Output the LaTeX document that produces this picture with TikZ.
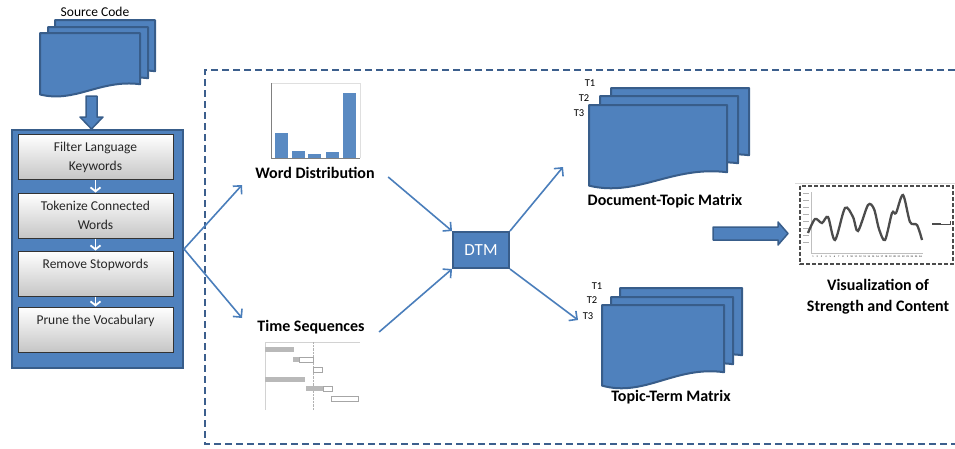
\documentclass[tikz,border=0pt]{standalone}
\usepackage{fontspec}
\setmainfont{Carlito}
\usetikzlibrary{arrows.meta}
\definecolor{boxblue}{HTML}{4F81BD}
\definecolor{edgeblue}{HTML}{385D8A}
\definecolor{lineblue}{HTML}{4A7EBB}
\definecolor{dashblue}{HTML}{3C5F8D}
\definecolor{barblue}{HTML}{5A8AC2}

\newcommand{\docpage}[4]{%
  \draw[docsheet] (#1,#2) -- ({#1+#3},#2) -- ({#1+#3},{#2+0.8*#4})
    .. controls ({#1+0.6*#3},{#2+0.72*#4}) and ({#1+0.35*#3},{#2+1.1*#4}) .. (#1,{#2+0.96*#4}) -- cycle;}

\begin{document}
\begin{tikzpicture}[x=1pt,y=-1pt,
  docsheet/.style={fill=boxblue, draw=edgeblue, line width=2pt, line join=round},
  blockarrow/.style={fill=boxblue, draw=edgeblue, line width=1.5pt, line join=round},
  stepbox/.style={draw=black!80, line width=1pt, top color=white, bottom color=gray!45, minimum width=155, minimum height=45, align=center, text=black!85, font=\fontsize{13.5}{19}\selectfont},
  stepflow/.style={draw=white, line width=1.8pt, -{Straight Barb[length=4pt,width=10pt]}},
  flow/.style={draw=lineblue, line width=1.6pt, -{Straight Barb[length=6pt,width=12pt]}},
  lbl/.style={font=\bfseries\fontsize{16}{21}\selectfont, align=center},
  tlbl/.style={font=\fontsize{10.5}{12}\selectfont}]
\useasboundingbox (0,0) rectangle (955,448);
\draw[dashblue, line width=2.2pt, dash pattern=on 7pt off 4pt] (955,70) -- (205,70) -- (205,444) -- (955,444);
\node (src) at (95,12) {\fontsize{13.5}{15}\selectfont Source Code};
\draw[blockarrow] (86,96) -- (97,96) -- (97,117) -- (103,117) -- (91.5,129) -- (80,117) -- (86,117) -- cycle;
\docpage{55}{20}{100}{64}
\docpage{48}{27}{100}{64}
\docpage{40}{33}{100}{64}
\node[fill=boxblue, draw=edgeblue, line width=2pt, minimum width=171, minimum height=238] (prep) at (97.5,249) {};
\node[stepbox] (s1) at (95.5,157) {Filter Language\\Keywords};
\node[stepbox] (s2) at (95.5,215.5) {Tokenize Connected\\Words};
\node[stepbox] (s3) at (95.5,273.5) {Remove Stopwords\\~};
\node[stepbox] (s4) at (95.5,329.5) {Prune the Vocabulary\\~};
\draw[stepflow] (s1) -- (s2);
\draw[stepflow] (s2) -- (s3);
\draw[stepflow] (s3) -- (s4);
\draw[gray!25] (271,83) -- (360,83) -- (360,158);
\foreach \x/\t in {275/133, 292/151, 308/154, 326/152, 343/93}
  \fill[barblue] (\x,\t) rectangle (\x+13,158);
\draw[gray, line width=1pt] (271,83) -- (271,158) -- (360,158);
\node[lbl] (wdist) at (315,173) {Word Distribution};
\node[lbl] (tseq) at (311,327) {Time Sequences};
\draw[gray!35] (265,342) -- (360,342);
\draw[gray!35] (265,342) -- (265,410);
\draw[gray!60, densely dotted] (313,342) -- (313,410);
\foreach \a/\b/\r in {265/294/347, 293/299/357, 265/305/377, 306/323/386}
  \fill[gray!55] (\a,\r) rectangle (\b,\r+5);
\foreach \a/\b/\r in {299/313/357, 313/322/367, 323/332/386, 331/358/396}
  \draw[gray!70, fill=white] (\a,\r) rectangle (\b,\r+5);
\coordinate (wdin) at (242,185);
\coordinate (tsin) at (242,318);
\draw[flow] (prep.east) -- (wdin);
\draw[flow] (prep.east) -- (tsin);
\node[fill=boxblue, draw=edgeblue, line width=2pt, minimum width=56, minimum height=36, text=white, font=\fontsize{17}{18}\selectfont] (dtm) at (481,250) {DTM};
\draw[flow] ([shift={(10,4)}]wdist.east) -- (dtm.north west);
\draw[flow] ([shift={(11,5)}]tseq.east) -- (dtm.south west);
\coordinate (dtin) at (563,167);
\coordinate (ttin) at (578,320);
\draw[flow] (dtm.north east) -- (dtin);
\draw[flow] (dtm.south east) -- (ttin);
\docpage{611}{88}{138}{84}
\docpage{600}{96}{138}{84}
\docpage{589}{105}{138}{84}
\node[tlbl] (dt1) at (590,83) {T1};
\node[tlbl] (dt2) at (584,98) {T2};
\node[tlbl] (dt3) at (579,113) {T3};
\node[lbl] (dtmat) at (665,201) {Document-Topic Matrix};
\docpage{620}{288}{122}{84}
\docpage{611}{297}{122}{84}
\docpage{602}{305}{122}{84}
\node[tlbl] (tt1) at (597,286) {T1};
\node[tlbl] (tt2) at (592,300) {T2};
\node[tlbl] (tt3) at (588,316) {T3};
\node[lbl] (ttmat) at (671,397) {Topic-Term Matrix};
\draw[blockarrow] (713,227) -- (778,227) -- (778,222) -- (788,233.5) -- (778,245) -- (778,240) -- (713,240) -- cycle;
\draw[gray!30] (795,183) -- (955,183);
\draw[gray!60!black, line width=1.5pt, dash pattern=on 4pt off 2pt] (800,186) rectangle (953,264);
\draw[gray!50] (811,192) -- (811,253) -- (923,253);
\foreach \v in {193,200,...,246}
  \draw[gray!60, line width=0.8pt] (803,\v) -- (809,\v);
\foreach \i in {1,...,26}
  \node[font=\fontsize{2.5}{3}\selectfont, inner sep=0] at ({813+(\i-1)*4.3},257) {\i};
\draw[gray!60!black, line width=2.3pt, smooth] plot coordinates {(808,233) (815,219) (822,223) (828,217) (835,240) (845,208) (853,217) (858,231) (868,205) (874,209) (879,229) (885,240) (892,213) (896,213) (903,195) (910,222) (917,225) (922,240)};
\draw[gray!60!black, line width=1.2pt] (932,224) -- (941,224);
\draw[gray!60!black, line width=0.5pt] (941,224) -- (950,224) -- (950,221);
\node[lbl] (vis) at (878,297) {Visualization of\\Strength and Content};
\end{tikzpicture}
\end{document}
